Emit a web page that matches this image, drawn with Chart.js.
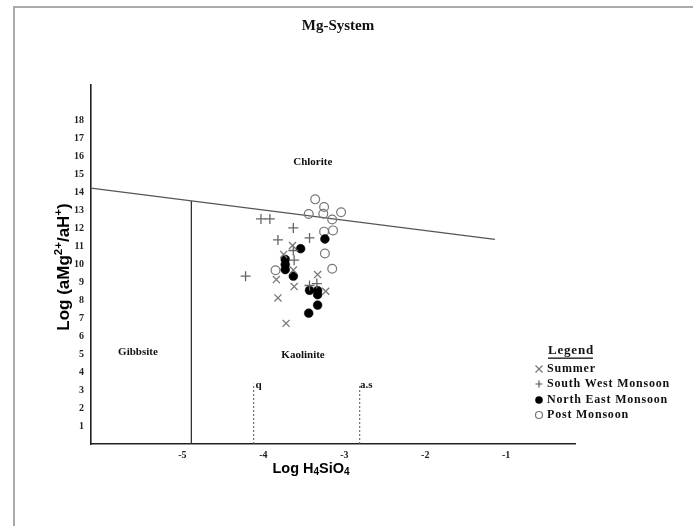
<!DOCTYPE html>
<html>
<head>
<meta charset="utf-8">
<script src="https://cdn.jsdelivr.net/npm/chart.js@4.4.1/dist/chart.umd.min.js"></script>
<style>
html,body{margin:0;padding:0;background:#fff;}
#wrap{position:relative;width:693px;height:526px;}
</style>
</head>
<body>
<div id="wrap"><canvas id="c" width="693" height="526"></canvas></div>
<script>
// ---- data ----
const xTicks = [-5, -4, -3, -2, -1];
const yTicks = [1,2,3,4,5,6,7,8,9,10,11,12,13,14,15,16,17,18];

const summerX = [-3.64, -3.75, -3.63, -3.84, -3.62, -3.33, -3.23, -3.82, -3.72];
const summerY = [11.06, 10.56, 9.69, 9.16, 8.77, 9.44, 8.51, 8.14, 6.72];

const swX = [-4.22, -4.03, -3.92, -3.82, -3.63, -3.43, -3.63, -3.62, -3.43, -3.34];
const swY = [9.35, 12.54, 12.54, 11.37, 12.04, 11.48, 10.78, 10.24, 8.83, 8.94];

const neX = [-3.24, -3.54, -3.73, -3.73, -3.73, -3.63, -3.43, -3.33, -3.33, -3.33, -3.44];
const neY = [11.42, 10.88, 10.28, 10.0, 9.72, 9.35, 8.56, 8.55, 8.32, 7.74, 7.29];

const pmX = [-3.36, -3.25, -3.04, -3.44, -3.26, -3.15, -3.25, -3.14, -3.24, -3.15, -3.85];
const pmY = [13.63, 13.20, 12.91, 12.81, 12.83, 12.51, 11.83, 11.90, 10.61, 9.76, 9.68];

// phase boundaries
const chloriteX = [-6.13, -1.14];
const chloriteY = [14.25, 11.4];
const gibbsiteX = [-4.89, -4.89];
const gibbsiteY = [0, 13.54];
const quartzX = [-4.12, -4.12];
const quartzY = [0, 3.35];
const amorphX = [-2.81, -2.81];
const amorphY = [0, 3.3];

// region labels: [text, x, y]
const regionLabels = [
  ['Chlorite', -3.39, 15.7],
  ['Gibbsite', -5.55, 5.14],
  ['Kaolinite', -3.51, 4.97],
  ['q', -4.06, 3.3],
  ['a.s', -2.73, 3.27]
];
const legendNames = ['Summer', 'South West Monsoon', 'North East Monsoon', 'Post Monsoon'];

const xMin = -6.13, xMax = -0.15, yMin = 0, yMax = 20;

const pts = (xs, ys) => xs.map((x, i) => ({x: x, y: ys[i]}));

const SERIF = '"Liberation Serif", "Times New Roman", serif';
const SANS = '"Liberation Sans", Arial, sans-serif';

const lineDs = (xs, ys, color, width, dash) => ({
  data: pts(xs, ys), showLine: true, pointRadius: 0, borderColor: color,
  borderWidth: width, borderDash: dash || [], fill: false, order: 5
});

const decor = {
  id: 'decor',
  beforeDraw(chart) {
    const ctx = chart.ctx;
    ctx.save();
    ctx.fillStyle = '#fff';
    ctx.fillRect(0, 0, chart.width, chart.height);
    ctx.strokeStyle = '#aaaaaa';
    ctx.lineWidth = 2;
    ctx.beginPath();
    ctx.moveTo(14, 526);
    ctx.lineTo(14, 7);
    ctx.lineTo(693, 7);
    ctx.stroke();
    ctx.restore();
  },
  afterDraw(chart) {
    const ctx = chart.ctx;
    const xs = chart.scales.x, ys = chart.scales.y;
    ctx.save();
    ctx.fillStyle = '#111';
    ctx.textBaseline = 'middle';
    // title
    ctx.textAlign = 'center';
    ctx.font = 'bold 15px ' + SERIF;
    ctx.fillText('Mg-System', 338, 26);
    // region labels
    ctx.font = 'bold 11px ' + SERIF;
    regionLabels.forEach(([t, x, y]) => {
      ctx.fillText(t, xs.getPixelForValue(x), ys.getPixelForValue(y));
    });
    // rich text helper (sub/superscripts)
    const drawRich = (parts, cx, cy) => {
      let total = 0;
      parts.forEach(p => { ctx.font = p.font; total += ctx.measureText(p.t).width; });
      let x = cx - total / 2;
      ctx.textAlign = 'left';
      parts.forEach(p => {
        ctx.font = p.font;
        ctx.fillText(p.t, x, cy + (p.dy || 0));
        x += ctx.measureText(p.t).width;
      });
    };
    const big = 'bold 14.5px ' + SANS, small = 'bold 10px ' + SANS;
    ctx.fillStyle = '#000';
    drawRich([
      {t: 'Log H', font: big}, {t: '4', font: small, dy: 3.5},
      {t: 'SiO', font: big}, {t: '4', font: small, dy: 3.5}
    ], 311, 469);
    // y axis title rotated
    ctx.save();
    ctx.translate(64, 267);
    ctx.rotate(-Math.PI / 2);
    const bigY = 'bold 17px ' + SANS, smallY = 'bold 11.5px ' + SANS;
    drawRich([
      {t: 'Log (aMg', font: bigY}, {t: '2+', font: smallY, dy: -5},
      {t: '/aH', font: bigY}, {t: '+', font: smallY, dy: -5},
      {t: ')', font: bigY}
    ], 0, 0);
    ctx.restore();
    // legend
    ctx.fillStyle = '#111';
    ctx.textAlign = 'left';
    ctx.letterSpacing = '0.8px';
    ctx.font = 'bold 13px ' + SERIF;
    const lx = 548, ly = 351;
    ctx.fillText('Legend', lx, ly);
    const lw = ctx.measureText('Legend').width;
    ctx.fillRect(lx, ly + 6.5, lw - 1, 1.3);
    ctx.font = 'bold 12px ' + SERIF;
    const rows = [369, 384, 400, 415];
    const sx = 539;
    rows.forEach((ry, i) => {
      ctx.fillStyle = '#111';
      ctx.fillText(legendNames[i], 547, ry);
      ctx.lineWidth = 1.2;
      if (i === 0) {
        ctx.strokeStyle = '#777';
        ctx.beginPath();
        ctx.moveTo(sx - 3.5, ry - 3.5); ctx.lineTo(sx + 3.5, ry + 3.5);
        ctx.moveTo(sx - 3.5, ry + 3.5); ctx.lineTo(sx + 3.5, ry - 3.5);
        ctx.stroke();
      } else if (i === 1) {
        ctx.strokeStyle = '#555';
        ctx.beginPath();
        ctx.moveTo(sx - 3.5, ry); ctx.lineTo(sx + 3.5, ry);
        ctx.moveTo(sx, ry - 3.5); ctx.lineTo(sx, ry + 3.5);
        ctx.stroke();
      } else if (i === 2) {
        ctx.fillStyle = '#000';
        ctx.beginPath(); ctx.arc(sx, ry, 3.8, 0, Math.PI * 2); ctx.fill();
      } else {
        ctx.strokeStyle = '#777';
        ctx.beginPath(); ctx.arc(sx, ry, 3.5, 0, Math.PI * 2); ctx.stroke();
      }
    });
    ctx.letterSpacing = '0px';
    ctx.restore();
  }
};

new Chart(document.getElementById('c'), {
  type: 'scatter',
  data: {
    datasets: [
      lineDs(chloriteX, chloriteY, '#555', 1.3),
      lineDs(gibbsiteX, gibbsiteY, '#333', 1.3),
      lineDs(quartzX, quartzY, '#555', 1, [2, 2]),
      lineDs(amorphX, amorphY, '#555', 1, [2, 2]),
      {label: legendNames[0], data: pts(summerX, summerY), pointStyle: 'crossRot', pointRadius: 5,
       borderColor: '#777', borderWidth: 1.3, backgroundColor: '#777', order: 1},
      {label: legendNames[1], data: pts(swX, swY), pointStyle: 'cross', pointRadius: 5,
       borderColor: '#666', borderWidth: 1.3, backgroundColor: '#666', order: 1},
      {label: legendNames[2], data: pts(neX, neY), pointStyle: 'circle', pointRadius: 4.4,
       borderColor: '#000', borderWidth: 0.5, backgroundColor: '#000', order: 1},
      {label: legendNames[3], data: pts(pmX, pmY), pointStyle: 'circle', pointRadius: 4.4,
       borderColor: '#777', borderWidth: 1.2, backgroundColor: 'rgba(255,255,255,0)', order: 1}
    ]
  },
  options: {
    responsive: false,
    animation: false,
    devicePixelRatio: 1,
    layout: {padding: {left: 0, top: 85, right: 118, bottom: 0}},
    plugins: {legend: {display: false}, tooltip: {enabled: false}, title: {display: false}},
    scales: {
      x: {
        type: 'linear', min: xMin, max: xMax,
        grid: {display: false, drawTicks: false},
        border: {display: true, color: '#222', width: 1.6},
        afterBuildTicks: s => { s.ticks = xTicks.map(v => ({value: v})); },
        afterFit: s => { s.height = 82; },
        ticks: {color: '#222', padding: 5, font: {family: SERIF, size: 10, weight: 'bold'}}
      },
      y: {
        type: 'linear', min: yMin, max: yMax,
        grid: {display: false, drawTicks: false},
        border: {display: true, color: '#222', width: 1.6},
        afterBuildTicks: s => { s.ticks = yTicks.map(v => ({value: v})); },
        afterFit: s => { s.width = 91; },
        ticks: {color: '#222', padding: 7, font: {family: SERIF, size: 10, weight: 'bold'}}
      }
    }
  },
  plugins: [decor]
});
</script>
</body>
</html>
